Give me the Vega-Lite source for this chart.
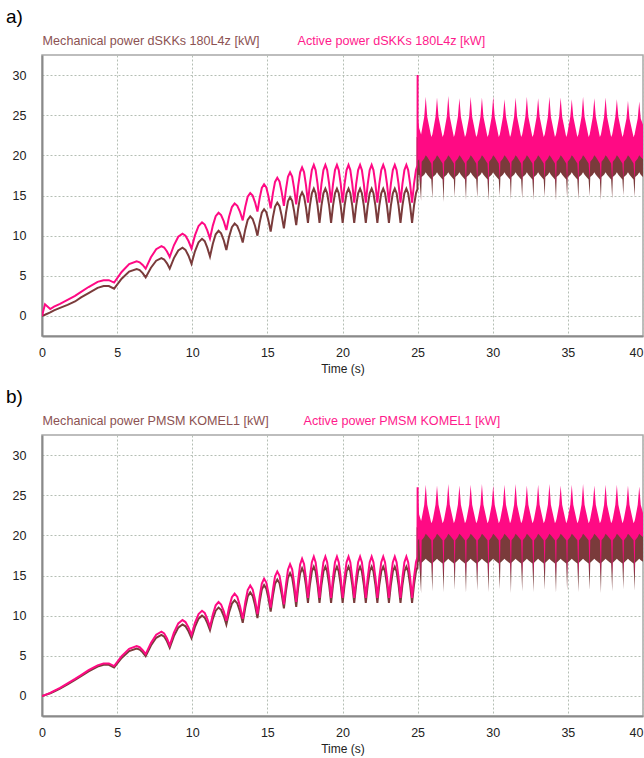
{
"$schema":"https://vega.github.io/schema/vega-lite/v6.json",
"background":"white",
"padding":{"left":5,"top":7,"right":0,"bottom":0},
"config":{"font":"Liberation Sans","view":{"stroke":"#a8a8a8","strokeWidth":1.5}},
"resolve":{"scale":{"color":"independent"},"legend":{"color":"independent"}},
"spacing":99,
"bounds":"flush",
"datasets":{
"pre":[
{"t":0,"am":0,"ap":0,"bm":0,"bp":0},
{"t":0.2,"am":0.15,"ap":1.45,"bm":0.1,"bp":0.12},
{"t":0.55,"am":0.45,"ap":0.85,"bm":0.33,"bp":0.38},
{"t":0.8,"am":0.7,"ap":1.15,"bm":0.55,"bp":0.62},
{"t":1.2,"am":1.0,"ap":1.5,"bm":0.9,"bp":1.0},
{"t":1.7,"am":1.37,"ap":2.0,"bm":1.45,"bp":1.55},
{"t":2.2,"am":1.8,"ap":2.5,"bm":2.0,"bp":2.12},
{"t":2.6,"am":2.3,"ap":3.0,"bm":2.45,"bp":2.6},
{"t":3.1,"am":2.85,"ap":3.6,"bm":3.05,"bp":3.2},
{"t":3.7,"am":3.5,"ap":4.25,"bm":3.65,"bp":3.8},
{"t":4.1,"am":3.72,"ap":4.45,"bm":3.88,"bp":4.05},
{"t":4.45,"am":3.72,"ap":4.45,"bm":3.88,"bp":4.05},
{"t":4.8,"am":3.4,"ap":4.15,"bm":3.55,"bp":3.72},
{"t":5.3,"am":4.63,"ap":5.48,"bm":4.73,"bp":4.96},
{"t":5.8,"am":5.52,"ap":6.45,"bm":5.59,"bp":5.87},
{"t":6.3,"am":5.85,"ap":6.8,"bm":5.9,"bp":6.2},
{"t":6.5,"am":5.71,"ap":6.68,"bm":5.77,"bp":6.07},
{"t":6.7,"am":5.33,"ap":6.35,"bm":5.43,"bp":5.7},
{"t":6.9,"am":4.8,"ap":5.9,"bm":4.95,"bp":5.2},
{"t":7.25,"am":6.0,"ap":7.3,"bm":6.28,"bp":6.6},
{"t":7.6,"am":6.88,"ap":8.32,"bm":7.24,"bp":7.62},
{"t":7.95,"am":7.2,"ap":8.7,"bm":7.6,"bp":8.0},
{"t":8.13,"am":7.03,"ap":8.52,"bm":7.39,"bp":7.77},
{"t":8.32,"am":6.55,"ap":8.03,"bm":6.8,"bp":7.15},
{"t":8.5,"am":5.9,"ap":7.35,"bm":6.0,"bp":6.3},
{"t":8.78,"am":7.2,"ap":8.8,"bm":7.45,"bp":7.88},
{"t":9.07,"am":8.15,"ap":9.86,"bm":8.51,"bp":9.03},
{"t":9.35,"am":8.5,"ap":10.25,"bm":8.9,"bp":9.45},
{"t":9.55,"am":8.23,"ap":10.0,"bm":8.67,"bp":9.2},
{"t":9.75,"am":7.5,"ap":9.33,"bm":8.05,"bp":8.53},
{"t":9.95,"am":6.5,"ap":8.4,"bm":7.2,"bp":7.6},
{"t":10.18,"am":8.05,"ap":10.03,"bm":8.6,"bp":9.1},
{"t":10.42,"am":9.18,"ap":11.21,"bm":9.62,"bp":10.2},
{"t":10.65,"am":9.6,"ap":11.65,"bm":10.0,"bp":10.6},
{"t":10.83,"am":9.31,"ap":11.38,"bm":9.76,"bp":10.33},
{"t":11.0,"am":8.5,"ap":10.65,"bm":9.1,"bp":9.6},
{"t":11.18,"am":7.4,"ap":9.65,"bm":8.2,"bp":8.6},
{"t":11.37,"am":9.0,"ap":11.25,"bm":9.6,"bp":10.15},
{"t":11.56,"am":10.17,"ap":12.42,"bm":10.62,"bp":11.28},
{"t":11.75,"am":10.6,"ap":12.85,"bm":11.0,"bp":11.7},
{"t":11.92,"am":10.28,"ap":12.56,"bm":10.72,"bp":11.39},
{"t":12.1,"am":9.4,"ap":11.78,"bm":9.95,"bp":10.53},
{"t":12.27,"am":8.2,"ap":10.7,"bm":8.9,"bp":9.35},
{"t":12.45,"am":9.85,"ap":12.35,"bm":10.4,"bp":11.05},
{"t":12.64,"am":11.06,"ap":13.56,"bm":11.5,"bp":12.29},
{"t":12.82,"am":11.5,"ap":14.0,"bm":11.9,"bp":12.75},
{"t":13.0,"am":11.19,"ap":13.72,"bm":11.52,"bp":12.33},
{"t":13.18,"am":10.33,"ap":12.95,"bm":10.5,"bp":11.18},
{"t":13.36,"am":9.15,"ap":11.9,"bm":9.1,"bp":9.6},
{"t":13.53,"am":10.78,"ap":13.6,"bm":11.0,"bp":11.68},
{"t":13.69,"am":11.96,"ap":14.84,"bm":12.39,"bp":13.19},
{"t":13.86,"am":12.4,"ap":15.3,"bm":12.9,"bp":13.75},
{"t":14.02,"am":12.08,"ap":14.99,"bm":12.47,"bp":13.27},
{"t":14.18,"am":11.2,"ap":14.15,"bm":11.3,"bp":11.98},
{"t":14.34,"am":10.0,"ap":13.0,"bm":9.7,"bp":10.2},
{"t":14.49,"am":11.65,"ap":14.7,"bm":11.75,"bp":12.4},
{"t":14.63,"am":12.86,"ap":15.94,"bm":13.25,"bp":14.01},
{"t":14.78,"am":13.3,"ap":16.4,"bm":13.8,"bp":14.6},
{"t":14.93,"am":12.92,"ap":16.0,"bm":13.36,"bp":14.12},
{"t":15.07,"am":11.9,"ap":14.9,"bm":12.15,"bp":12.8},
{"t":15.22,"am":10.5,"ap":13.4,"bm":10.5,"bp":11.0},
{"t":15.37,"am":12.3,"ap":15.3,"bm":12.5,"bp":13.25},
{"t":15.51,"am":13.62,"ap":16.69,"bm":13.96,"bp":14.9},
{"t":15.66,"am":14.1,"ap":17.2,"bm":14.5,"bp":15.5},
{"t":15.81,"am":13.67,"ap":16.73,"bm":14.02,"bp":14.95},
{"t":15.95,"am":12.5,"ap":15.45,"bm":12.7,"bp":13.45},
{"t":16.1,"am":10.9,"ap":13.7,"bm":10.9,"bp":11.4},
{"t":16.24,"am":12.85,"ap":15.8,"bm":13.1,"bp":13.9},
{"t":16.37,"am":14.28,"ap":17.34,"bm":14.71,"bp":15.73},
{"t":16.51,"am":14.8,"ap":17.9,"bm":15.3,"bp":16.4},
{"t":16.65,"am":14.33,"ap":17.36,"bm":14.74,"bp":15.77},
{"t":16.78,"am":13.05,"ap":15.9,"bm":13.2,"bp":14.05},
{"t":16.92,"am":11.3,"ap":13.9,"bm":11.1,"bp":11.7},
{"t":17.05,"am":13.35,"ap":16.2,"bm":13.5,"bp":14.4},
{"t":17.18,"am":14.85,"ap":17.88,"bm":15.26,"bp":16.38},
{"t":17.31,"am":15.4,"ap":18.5,"bm":15.9,"bp":17.1},
{"t":17.44,"am":14.89,"ap":17.91,"bm":15.32,"bp":16.44},
{"t":17.57,"am":13.5,"ap":16.3,"bm":13.75,"bp":14.65},
{"t":17.7,"am":11.6,"ap":14.1,"bm":11.6,"bp":12.2},
{"t":17.83,"am":13.73,"ap":16.45,"bm":13.85,"bp":14.78},
{"t":17.96,"am":15.28,"ap":18.17,"bm":15.5,"bp":16.66},
{"t":18.09,"am":15.85,"ap":18.8,"bm":16.1,"bp":17.35},
{"t":18.21,"am":15.28,"ap":18.17,"bm":15.5,"bp":16.66},
{"t":18.34,"am":13.73,"ap":16.45,"bm":13.85,"bp":14.78},
{"t":18.47,"am":11.6,"ap":14.1,"bm":11.6,"bp":12.2},
{"t":18.6,"am":13.73,"ap":16.45,"bm":13.85,"bp":14.78},
{"t":18.73,"am":15.28,"ap":18.17,"bm":15.5,"bp":16.66},
{"t":18.86,"am":15.85,"ap":18.8,"bm":16.1,"bp":17.35},
{"t":18.98,"am":15.28,"ap":18.17,"bm":15.5,"bp":16.66},
{"t":19.11,"am":13.73,"ap":16.45,"bm":13.85,"bp":14.78},
{"t":19.24,"am":11.6,"ap":14.1,"bm":11.6,"bp":12.2},
{"t":19.37,"am":13.73,"ap":16.45,"bm":13.85,"bp":14.78},
{"t":19.5,"am":15.28,"ap":18.17,"bm":15.5,"bp":16.66},
{"t":19.63,"am":15.85,"ap":18.8,"bm":16.1,"bp":17.35},
{"t":19.75,"am":15.28,"ap":18.17,"bm":15.5,"bp":16.66},
{"t":19.88,"am":13.73,"ap":16.45,"bm":13.85,"bp":14.78},
{"t":20.01,"am":11.6,"ap":14.1,"bm":11.6,"bp":12.2},
{"t":20.14,"am":13.73,"ap":16.45,"bm":13.85,"bp":14.78},
{"t":20.27,"am":15.28,"ap":18.17,"bm":15.5,"bp":16.66},
{"t":20.4,"am":15.85,"ap":18.8,"bm":16.1,"bp":17.35},
{"t":20.52,"am":15.28,"ap":18.17,"bm":15.5,"bp":16.66},
{"t":20.65,"am":13.73,"ap":16.45,"bm":13.85,"bp":14.78},
{"t":20.78,"am":11.6,"ap":14.1,"bm":11.6,"bp":12.2},
{"t":20.91,"am":13.73,"ap":16.45,"bm":13.85,"bp":14.78},
{"t":21.04,"am":15.28,"ap":18.17,"bm":15.5,"bp":16.66},
{"t":21.17,"am":15.85,"ap":18.8,"bm":16.1,"bp":17.35},
{"t":21.29,"am":15.28,"ap":18.17,"bm":15.5,"bp":16.66},
{"t":21.42,"am":13.73,"ap":16.45,"bm":13.85,"bp":14.78},
{"t":21.55,"am":11.6,"ap":14.1,"bm":11.6,"bp":12.2},
{"t":21.68,"am":13.73,"ap":16.45,"bm":13.85,"bp":14.78},
{"t":21.81,"am":15.28,"ap":18.17,"bm":15.5,"bp":16.66},
{"t":21.94,"am":15.85,"ap":18.8,"bm":16.1,"bp":17.35},
{"t":22.06,"am":15.28,"ap":18.17,"bm":15.5,"bp":16.66},
{"t":22.19,"am":13.73,"ap":16.45,"bm":13.85,"bp":14.78},
{"t":22.32,"am":11.6,"ap":14.1,"bm":11.6,"bp":12.2},
{"t":22.45,"am":13.73,"ap":16.45,"bm":13.85,"bp":14.78},
{"t":22.58,"am":15.28,"ap":18.17,"bm":15.5,"bp":16.66},
{"t":22.71,"am":15.85,"ap":18.8,"bm":16.1,"bp":17.35},
{"t":22.83,"am":15.28,"ap":18.17,"bm":15.5,"bp":16.66},
{"t":22.96,"am":13.73,"ap":16.45,"bm":13.85,"bp":14.78},
{"t":23.09,"am":11.6,"ap":14.1,"bm":11.6,"bp":12.2},
{"t":23.22,"am":13.73,"ap":16.45,"bm":13.85,"bp":14.78},
{"t":23.35,"am":15.28,"ap":18.17,"bm":15.5,"bp":16.66},
{"t":23.48,"am":15.85,"ap":18.8,"bm":16.1,"bp":17.35},
{"t":23.6,"am":15.28,"ap":18.17,"bm":15.5,"bp":16.66},
{"t":23.73,"am":13.73,"ap":16.45,"bm":13.85,"bp":14.78},
{"t":23.86,"am":11.6,"ap":14.1,"bm":11.6,"bp":12.2},
{"t":23.99,"am":13.73,"ap":16.45,"bm":13.85,"bp":14.78},
{"t":24.12,"am":15.28,"ap":18.17,"bm":15.5,"bp":16.66},
{"t":24.25,"am":15.85,"ap":18.8,"bm":16.1,"bp":17.35},
{"t":24.37,"am":15.28,"ap":18.17,"bm":15.5,"bp":16.66},
{"t":24.5,"am":13.73,"ap":16.45,"bm":13.85,"bp":14.78},
{"t":24.63,"am":11.6,"ap":14.1,"bm":11.6,"bp":12.2},
{"t":24.76,"am":13.73,"ap":16.45,"bm":13.85,"bp":14.78},
{"t":24.89,"am":15.28,"ap":18.17,"bm":15.5,"bp":16.66},
{"t":24.99,"am":15.8,"ap":18.75,"bm":16.05,"bp":17.3},
{"t":25.0,"am":22.3,"ap":30.0,"bm":21.0,"bp":26.0}
],
"post":[
{"t":25.0,"a1":25.0,"a2":19.3,"a3":22.3,"a4":17.5,"b1":26.0,"b2":19.3,"b3":21.0,"b4":16.5},
{"t":25.1,"a1":23.4,"a2":19.5,"a3":21.6,"a4":17.6,"b1":22.6,"b2":19.6,"b3":20.5,"b4":16.8},
{"t":25.23,"a1":22.6,"a2":16.4,"a3":21.0,"a4":14.3,"b1":21.8,"b2":14.9,"b3":20.0,"b4":12.8},
{"t":25.27,"a1":23.0,"a2":19.2,"a3":21.3,"a4":17.3,"b1":22.1,"b2":19.4,"b3":20.3,"b4":16.6},
{"t":25.44,"a1":24.8,"a2":19.6,"a3":21.8,"a4":17.6,"b1":23.8,"b2":19.8,"b3":20.8,"b4":16.9},
{"t":25.54,"a1":27.3,"a2":20.0,"a3":22.4,"a4":17.9,"b1":26.3,"b2":20.2,"b3":21.3,"b4":17.1},
{"t":25.64,"a1":24.8,"a2":19.8,"a3":22.0,"a4":17.6,"b1":23.8,"b2":20.0,"b3":21.0,"b4":16.9},
{"t":25.91,"a1":22.3,"a2":19.0,"a3":21.0,"a4":17.0,"b1":21.5,"b2":19.4,"b3":20.2,"b4":16.5},
{"t":25.98,"a1":22.6,"a2":16.7,"a3":21.0,"a4":14.6,"b1":21.8,"b2":15.1,"b3":20.0,"b4":13.0},
{"t":26.02,"a1":23.0,"a2":19.2,"a3":21.3,"a4":17.3,"b1":22.1,"b2":19.4,"b3":20.3,"b4":16.6},
{"t":26.19,"a1":24.8,"a2":19.6,"a3":21.8,"a4":17.6,"b1":23.8,"b2":19.8,"b3":20.8,"b4":16.9},
{"t":26.29,"a1":27.2,"a2":20.0,"a3":22.4,"a4":17.9,"b1":26.2,"b2":20.2,"b3":21.3,"b4":17.1},
{"t":26.39,"a1":24.8,"a2":19.8,"a3":22.0,"a4":17.6,"b1":23.8,"b2":20.0,"b3":21.0,"b4":16.9},
{"t":26.66,"a1":22.3,"a2":19.0,"a3":21.0,"a4":17.0,"b1":21.5,"b2":19.4,"b3":20.2,"b4":16.5},
{"t":26.73,"a1":22.6,"a2":16.5,"a3":21.0,"a4":14.2,"b1":21.8,"b2":15.0,"b3":20.0,"b4":12.9},
{"t":26.77,"a1":23.0,"a2":19.2,"a3":21.3,"a4":17.3,"b1":22.1,"b2":19.4,"b3":20.3,"b4":16.6},
{"t":26.94,"a1":24.8,"a2":19.6,"a3":21.8,"a4":17.6,"b1":23.8,"b2":19.8,"b3":20.8,"b4":16.9},
{"t":27.04,"a1":27.4,"a2":20.0,"a3":22.4,"a4":17.9,"b1":26.4,"b2":20.2,"b3":21.3,"b4":17.1},
{"t":27.14,"a1":24.8,"a2":19.8,"a3":22.0,"a4":17.6,"b1":23.8,"b2":20.0,"b3":21.0,"b4":16.9},
{"t":27.41,"a1":22.3,"a2":19.0,"a3":21.0,"a4":17.0,"b1":21.5,"b2":19.4,"b3":20.2,"b4":16.5},
{"t":27.47,"a1":22.6,"a2":16.8,"a3":21.0,"a4":14.8,"b1":21.8,"b2":15.2,"b3":20.0,"b4":13.2},
{"t":27.51,"a1":23.0,"a2":19.2,"a3":21.3,"a4":17.3,"b1":22.1,"b2":19.4,"b3":20.3,"b4":16.6},
{"t":27.68,"a1":24.8,"a2":19.6,"a3":21.8,"a4":17.6,"b1":23.8,"b2":19.8,"b3":20.8,"b4":16.9},
{"t":27.78,"a1":27.1,"a2":20.0,"a3":22.4,"a4":17.9,"b1":26.2,"b2":20.2,"b3":21.3,"b4":17.1},
{"t":27.88,"a1":24.8,"a2":19.8,"a3":22.0,"a4":17.6,"b1":23.8,"b2":20.0,"b3":21.0,"b4":16.9},
{"t":28.15,"a1":22.3,"a2":19.0,"a3":21.0,"a4":17.0,"b1":21.5,"b2":19.4,"b3":20.2,"b4":16.5},
{"t":28.22,"a1":22.6,"a2":16.5,"a3":21.0,"a4":14.4,"b1":21.8,"b2":14.9,"b3":20.0,"b4":12.8},
{"t":28.26,"a1":23.0,"a2":19.2,"a3":21.3,"a4":17.3,"b1":22.1,"b2":19.4,"b3":20.3,"b4":16.6},
{"t":28.43,"a1":24.8,"a2":19.6,"a3":21.8,"a4":17.6,"b1":23.8,"b2":19.8,"b3":20.8,"b4":16.9},
{"t":28.53,"a1":27.3,"a2":20.0,"a3":22.4,"a4":17.9,"b1":26.3,"b2":20.2,"b3":21.3,"b4":17.1},
{"t":28.63,"a1":24.8,"a2":19.8,"a3":22.0,"a4":17.6,"b1":23.8,"b2":20.0,"b3":21.0,"b4":16.9},
{"t":28.9,"a1":22.3,"a2":19.0,"a3":21.0,"a4":17.0,"b1":21.5,"b2":19.4,"b3":20.2,"b4":16.5},
{"t":28.97,"a1":22.6,"a2":16.9,"a3":21.0,"a4":14.7,"b1":21.8,"b2":15.0,"b3":20.0,"b4":13.1},
{"t":29.01,"a1":23.0,"a2":19.2,"a3":21.3,"a4":17.3,"b1":22.1,"b2":19.4,"b3":20.3,"b4":16.6},
{"t":29.18,"a1":24.8,"a2":19.6,"a3":21.8,"a4":17.6,"b1":23.8,"b2":19.8,"b3":20.8,"b4":16.9},
{"t":29.28,"a1":27.2,"a2":20.0,"a3":22.4,"a4":17.9,"b1":26.4,"b2":20.2,"b3":21.3,"b4":17.1},
{"t":29.38,"a1":24.8,"a2":19.8,"a3":22.0,"a4":17.6,"b1":23.8,"b2":20.0,"b3":21.0,"b4":16.9},
{"t":29.65,"a1":22.3,"a2":19.0,"a3":21.0,"a4":17.0,"b1":21.5,"b2":19.4,"b3":20.2,"b4":16.5},
{"t":29.72,"a1":22.6,"a2":16.4,"a3":21.0,"a4":14.3,"b1":21.8,"b2":14.8,"b3":20.0,"b4":12.9},
{"t":29.76,"a1":23.0,"a2":19.2,"a3":21.3,"a4":17.3,"b1":22.1,"b2":19.4,"b3":20.3,"b4":16.6},
{"t":29.93,"a1":24.8,"a2":19.6,"a3":21.8,"a4":17.6,"b1":23.8,"b2":19.8,"b3":20.8,"b4":16.9},
{"t":30.03,"a1":27.3,"a2":20.0,"a3":22.4,"a4":17.9,"b1":26.2,"b2":20.2,"b3":21.3,"b4":17.1},
{"t":30.13,"a1":24.8,"a2":19.8,"a3":22.0,"a4":17.6,"b1":23.8,"b2":20.0,"b3":21.0,"b4":16.9},
{"t":30.4,"a1":22.3,"a2":19.0,"a3":21.0,"a4":17.0,"b1":21.5,"b2":19.4,"b3":20.2,"b4":16.5},
{"t":30.47,"a1":22.6,"a2":16.9,"a3":21.0,"a4":14.9,"b1":21.8,"b2":15.3,"b3":20.0,"b4":13.3},
{"t":30.51,"a1":23.0,"a2":19.2,"a3":21.3,"a4":17.3,"b1":22.1,"b2":19.4,"b3":20.3,"b4":16.6},
{"t":30.68,"a1":24.8,"a2":19.6,"a3":21.8,"a4":17.6,"b1":23.8,"b2":19.8,"b3":20.8,"b4":16.9},
{"t":30.78,"a1":27.0,"a2":20.0,"a3":22.4,"a4":17.9,"b1":26.3,"b2":20.2,"b3":21.3,"b4":17.1},
{"t":30.88,"a1":24.8,"a2":19.8,"a3":22.0,"a4":17.6,"b1":23.8,"b2":20.0,"b3":21.0,"b4":16.9},
{"t":31.15,"a1":22.3,"a2":19.0,"a3":21.0,"a4":17.0,"b1":21.5,"b2":19.4,"b3":20.2,"b4":16.5},
{"t":31.21,"a1":22.6,"a2":16.6,"a3":21.0,"a4":14.5,"b1":21.8,"b2":14.9,"b3":20.0,"b4":12.8},
{"t":31.25,"a1":23.0,"a2":19.2,"a3":21.3,"a4":17.3,"b1":22.1,"b2":19.4,"b3":20.3,"b4":16.6},
{"t":31.42,"a1":24.8,"a2":19.6,"a3":21.8,"a4":17.6,"b1":23.8,"b2":19.8,"b3":20.8,"b4":16.9},
{"t":31.52,"a1":27.2,"a2":20.0,"a3":22.4,"a4":17.9,"b1":26.4,"b2":20.2,"b3":21.3,"b4":17.1},
{"t":31.62,"a1":24.8,"a2":19.8,"a3":22.0,"a4":17.6,"b1":23.8,"b2":20.0,"b3":21.0,"b4":16.9},
{"t":31.89,"a1":22.3,"a2":19.0,"a3":21.0,"a4":17.0,"b1":21.5,"b2":19.4,"b3":20.2,"b4":16.5},
{"t":31.96,"a1":22.6,"a2":16.7,"a3":21.0,"a4":14.6,"b1":21.8,"b2":15.1,"b3":20.0,"b4":13.0},
{"t":32.0,"a1":23.0,"a2":19.2,"a3":21.3,"a4":17.3,"b1":22.1,"b2":19.4,"b3":20.3,"b4":16.6},
{"t":32.17,"a1":24.8,"a2":19.6,"a3":21.8,"a4":17.6,"b1":23.8,"b2":19.8,"b3":20.8,"b4":16.9},
{"t":32.27,"a1":27.3,"a2":20.0,"a3":22.4,"a4":17.9,"b1":26.2,"b2":20.2,"b3":21.3,"b4":17.1},
{"t":32.37,"a1":24.8,"a2":19.8,"a3":22.0,"a4":17.6,"b1":23.8,"b2":20.0,"b3":21.0,"b4":16.9},
{"t":32.64,"a1":22.3,"a2":19.0,"a3":21.0,"a4":17.0,"b1":21.5,"b2":19.4,"b3":20.2,"b4":16.5},
{"t":32.71,"a1":22.6,"a2":16.5,"a3":21.0,"a4":14.4,"b1":21.8,"b2":15.0,"b3":20.0,"b4":12.9},
{"t":32.75,"a1":23.0,"a2":19.2,"a3":21.3,"a4":17.3,"b1":22.1,"b2":19.4,"b3":20.3,"b4":16.6},
{"t":32.92,"a1":24.8,"a2":19.6,"a3":21.8,"a4":17.6,"b1":23.8,"b2":19.8,"b3":20.8,"b4":16.9},
{"t":33.02,"a1":27.1,"a2":20.0,"a3":22.4,"a4":17.9,"b1":26.3,"b2":20.2,"b3":21.3,"b4":17.1},
{"t":33.12,"a1":24.8,"a2":19.8,"a3":22.0,"a4":17.6,"b1":23.8,"b2":20.0,"b3":21.0,"b4":16.9},
{"t":33.39,"a1":22.3,"a2":19.0,"a3":21.0,"a4":17.0,"b1":21.5,"b2":19.4,"b3":20.2,"b4":16.5},
{"t":33.46,"a1":22.6,"a2":16.8,"a3":21.0,"a4":14.8,"b1":21.8,"b2":15.2,"b3":20.0,"b4":13.2},
{"t":33.5,"a1":23.0,"a2":19.2,"a3":21.3,"a4":17.3,"b1":22.1,"b2":19.4,"b3":20.3,"b4":16.6},
{"t":33.67,"a1":24.8,"a2":19.6,"a3":21.8,"a4":17.6,"b1":23.8,"b2":19.8,"b3":20.8,"b4":16.9},
{"t":33.77,"a1":27.3,"a2":20.0,"a3":22.4,"a4":17.9,"b1":26.4,"b2":20.2,"b3":21.3,"b4":17.1},
{"t":33.87,"a1":24.8,"a2":19.8,"a3":22.0,"a4":17.6,"b1":23.8,"b2":20.0,"b3":21.0,"b4":16.9},
{"t":34.14,"a1":22.3,"a2":19.0,"a3":21.0,"a4":17.0,"b1":21.5,"b2":19.4,"b3":20.2,"b4":16.5},
{"t":34.21,"a1":22.6,"a2":16.4,"a3":21.0,"a4":14.3,"b1":21.8,"b2":14.9,"b3":20.0,"b4":12.8},
{"t":34.25,"a1":23.0,"a2":19.2,"a3":21.3,"a4":17.3,"b1":22.1,"b2":19.4,"b3":20.3,"b4":16.6},
{"t":34.42,"a1":24.8,"a2":19.6,"a3":21.8,"a4":17.6,"b1":23.8,"b2":19.8,"b3":20.8,"b4":16.9},
{"t":34.52,"a1":27.2,"a2":20.0,"a3":22.4,"a4":17.9,"b1":26.2,"b2":20.2,"b3":21.3,"b4":17.1},
{"t":34.62,"a1":24.8,"a2":19.8,"a3":22.0,"a4":17.6,"b1":23.8,"b2":20.0,"b3":21.0,"b4":16.9},
{"t":34.89,"a1":22.3,"a2":19.0,"a3":21.0,"a4":17.0,"b1":21.5,"b2":19.4,"b3":20.2,"b4":16.5},
{"t":34.95,"a1":22.6,"a2":16.7,"a3":21.0,"a4":14.7,"b1":21.8,"b2":15.0,"b3":20.0,"b4":13.1},
{"t":34.99,"a1":23.0,"a2":19.2,"a3":21.3,"a4":17.3,"b1":22.1,"b2":19.4,"b3":20.3,"b4":16.6},
{"t":35.16,"a1":24.8,"a2":19.6,"a3":21.8,"a4":17.6,"b1":23.8,"b2":19.8,"b3":20.8,"b4":16.9},
{"t":35.26,"a1":27.0,"a2":20.0,"a3":22.4,"a4":17.9,"b1":26.3,"b2":20.2,"b3":21.3,"b4":17.1},
{"t":35.36,"a1":24.8,"a2":19.8,"a3":22.0,"a4":17.6,"b1":23.8,"b2":20.0,"b3":21.0,"b4":16.9},
{"t":35.63,"a1":22.3,"a2":19.0,"a3":21.0,"a4":17.0,"b1":21.5,"b2":19.4,"b3":20.2,"b4":16.5},
{"t":35.7,"a1":22.6,"a2":16.6,"a3":21.0,"a4":14.5,"b1":21.8,"b2":14.8,"b3":20.0,"b4":12.9},
{"t":35.74,"a1":23.0,"a2":19.2,"a3":21.3,"a4":17.3,"b1":22.1,"b2":19.4,"b3":20.3,"b4":16.6},
{"t":35.91,"a1":24.8,"a2":19.6,"a3":21.8,"a4":17.6,"b1":23.8,"b2":19.8,"b3":20.8,"b4":16.9},
{"t":36.01,"a1":27.3,"a2":20.0,"a3":22.4,"a4":17.9,"b1":26.4,"b2":20.2,"b3":21.3,"b4":17.1},
{"t":36.11,"a1":24.8,"a2":19.8,"a3":22.0,"a4":17.6,"b1":23.8,"b2":20.0,"b3":21.0,"b4":16.9},
{"t":36.38,"a1":22.3,"a2":19.0,"a3":21.0,"a4":17.0,"b1":21.5,"b2":19.4,"b3":20.2,"b4":16.5},
{"t":36.45,"a1":22.6,"a2":16.9,"a3":21.0,"a4":14.9,"b1":21.8,"b2":15.2,"b3":20.0,"b4":13.2},
{"t":36.49,"a1":23.0,"a2":19.2,"a3":21.3,"a4":17.3,"b1":22.1,"b2":19.4,"b3":20.3,"b4":16.6},
{"t":36.66,"a1":24.8,"a2":19.6,"a3":21.8,"a4":17.6,"b1":23.8,"b2":19.8,"b3":20.8,"b4":16.9},
{"t":36.76,"a1":27.1,"a2":20.0,"a3":22.4,"a4":17.9,"b1":26.2,"b2":20.2,"b3":21.3,"b4":17.1},
{"t":36.86,"a1":24.8,"a2":19.8,"a3":22.0,"a4":17.6,"b1":23.8,"b2":20.0,"b3":21.0,"b4":16.9},
{"t":37.13,"a1":22.3,"a2":19.0,"a3":21.0,"a4":17.0,"b1":21.5,"b2":19.4,"b3":20.2,"b4":16.5},
{"t":37.2,"a1":22.6,"a2":16.5,"a3":21.0,"a4":14.4,"b1":21.8,"b2":14.9,"b3":20.0,"b4":12.8},
{"t":37.24,"a1":23.0,"a2":19.2,"a3":21.3,"a4":17.3,"b1":22.1,"b2":19.4,"b3":20.3,"b4":16.6},
{"t":37.41,"a1":24.8,"a2":19.6,"a3":21.8,"a4":17.6,"b1":23.8,"b2":19.8,"b3":20.8,"b4":16.9},
{"t":37.51,"a1":27.2,"a2":20.0,"a3":22.4,"a4":17.9,"b1":26.3,"b2":20.2,"b3":21.3,"b4":17.1},
{"t":37.61,"a1":24.8,"a2":19.8,"a3":22.0,"a4":17.6,"b1":23.8,"b2":20.0,"b3":21.0,"b4":16.9},
{"t":37.88,"a1":22.3,"a2":19.0,"a3":21.0,"a4":17.0,"b1":21.5,"b2":19.4,"b3":20.2,"b4":16.5},
{"t":37.95,"a1":22.6,"a2":16.7,"a3":21.0,"a4":14.6,"b1":21.8,"b2":15.1,"b3":20.0,"b4":13.0},
{"t":37.99,"a1":23.0,"a2":19.2,"a3":21.3,"a4":17.3,"b1":22.1,"b2":19.4,"b3":20.3,"b4":16.6},
{"t":38.16,"a1":24.8,"a2":19.6,"a3":21.8,"a4":17.6,"b1":23.8,"b2":19.8,"b3":20.8,"b4":16.9},
{"t":38.26,"a1":27.0,"a2":20.0,"a3":22.4,"a4":17.9,"b1":26.3,"b2":20.2,"b3":21.3,"b4":17.1},
{"t":38.36,"a1":24.8,"a2":19.8,"a3":22.0,"a4":17.6,"b1":23.8,"b2":20.0,"b3":21.0,"b4":16.9},
{"t":38.63,"a1":22.3,"a2":19.0,"a3":21.0,"a4":17.0,"b1":21.5,"b2":19.4,"b3":20.2,"b4":16.5},
{"t":38.69,"a1":22.6,"a2":17.0,"a3":21.0,"a4":15.0,"b1":21.8,"b2":15.3,"b3":20.0,"b4":13.3},
{"t":38.73,"a1":23.0,"a2":19.2,"a3":21.3,"a4":17.3,"b1":22.1,"b2":19.4,"b3":20.3,"b4":16.6},
{"t":38.9,"a1":24.6,"a2":19.6,"a3":21.8,"a4":17.6,"b1":23.8,"b2":19.8,"b3":20.8,"b4":16.9},
{"t":39.0,"a1":26.8,"a2":20.0,"a3":22.4,"a4":17.9,"b1":26.2,"b2":20.2,"b3":21.3,"b4":17.1},
{"t":39.1,"a1":24.6,"a2":19.8,"a3":22.0,"a4":17.6,"b1":23.8,"b2":20.0,"b3":21.0,"b4":16.9},
{"t":39.37,"a1":22.3,"a2":19.0,"a3":21.0,"a4":17.0,"b1":21.5,"b2":19.4,"b3":20.2,"b4":16.5},
{"t":39.44,"a1":22.6,"a2":16.8,"a3":21.0,"a4":14.8,"b1":21.8,"b2":15.0,"b3":20.0,"b4":13.1},
{"t":39.48,"a1":23.0,"a2":19.2,"a3":21.3,"a4":17.3,"b1":22.1,"b2":19.4,"b3":20.3,"b4":16.6},
{"t":39.65,"a1":24.6,"a2":19.6,"a3":21.8,"a4":17.6,"b1":23.8,"b2":19.8,"b3":20.8,"b4":16.9},
{"t":39.75,"a1":26.7,"a2":20.0,"a3":22.4,"a4":17.9,"b1":26.1,"b2":20.2,"b3":21.3,"b4":17.1},
{"t":39.85,"a1":24.6,"a2":19.8,"a3":22.0,"a4":17.6,"b1":23.8,"b2":20.0,"b3":21.0,"b4":16.9},
{"t":40.0,"a1":23.8,"a2":19.5,"a3":21.6,"a4":17.3,"b1":22.8,"b2":19.8,"b3":20.6,"b4":16.7}
]
},
"vconcat":[
{
"width":601,"height":281,
"title":{"text":"a)","anchor":"start","frame":"group","dx":-36,"fontSize":19,"fontWeight":"normal","color":"#000","font":"Liberation Sans","offset":8},
"layer":[
{"data":{"name":"pre"},"transform":[{"fold":["am","ap"],"as":["s","v"]}],
"mark":{"type":"line","strokeWidth":2,"clip":true},
"encoding":{
"x":{"field":"t","type":"quantitative","title":"Time (s)","scale":{"domain":[0,40],"nice":false},
"axis":{"values":[0,2.5,5,7.5,10,12.5,15,17.5,20,22.5,25,27.5,30,32.5,35,37.5,40],"labelExpr":"datum.value % 5 === 0 ? datum.label : ''","labelAlign":{"condition":{"test":"datum.value === 40","value":"right"},"value":"center"},"grid":true,"gridColor":"#b4beb4","gridDash":[2,2],"ticks":false,"domainColor":"#8a8a8a","domainWidth":2,"labelFontSize":12.5,"labelColor":"#222","labelPadding":10,"labelOverlap":false,"labelFont":"Liberation Sans","titleFont":"Liberation Sans","titleFontSize":12,"titleFontWeight":"normal","titleColor":"#222","titlePadding":5}},
"y":{"field":"v","type":"quantitative","title":null,"scale":{"domain":[-2.5,32.5],"nice":false,"zero":false},
"axis":{"values":[0,5,10,15,20,25,30],"grid":true,"gridColor":"#b4beb4","gridDash":[2,2],"ticks":false,"domainColor":"#8a8a8a","domainWidth":2,"labelFontSize":12.5,"labelColor":"#222","labelPadding":16,"labelFont":"Liberation Sans"}},
"color":{"field":"s","type":"nominal","scale":{"domain":["am","ap"],"range":["#7a3b3b","#ff0a84"]},
"legend":{"orient":"none","legendX":-12,"legendY":-20,"direction":"horizontal","title":null,"symbolSize":0,"symbolStrokeWidth":0,"symbolOpacity":0,"labelOffset":0,"columnPadding":25,"labelFont":"Liberation Sans","labelFontSize":12.6,"labelLimit":0,"labelExpr":"datum.value == 'am' ? 'Mechanical power dSKKs 180L4z [kW]' : 'Active power dSKKs 180L4z [kW]'","labelColor":{"expr":"datum.value == 'am' ? '#8c5252' : '#ff1a8c'"}}}
}},
{"data":{"name":"post"},"mark":{"type":"area","color":"#7a3b3b","clip":true},
"encoding":{"x":{"field":"t","type":"quantitative","title":"Time (s)"},"y":{"field":"a3","type":"quantitative","title":null},"y2":{"field":"a4"}}},
{"data":{"name":"post"},"mark":{"type":"area","color":"#ff0a84","clip":true},
"encoding":{"x":{"field":"t","type":"quantitative","title":"Time (s)"},"y":{"field":"a1","type":"quantitative","title":null},"y2":{"field":"a2"}}}
]
},
{
"width":601,"height":281,
"title":{"text":"b)","anchor":"start","frame":"group","dx":-36,"fontSize":19,"fontWeight":"normal","color":"#000","font":"Liberation Sans","offset":8},
"layer":[
{"data":{"name":"pre"},"transform":[{"fold":["bm","bp"],"as":["s","v"]}],
"mark":{"type":"line","strokeWidth":2,"clip":true},
"encoding":{
"x":{"field":"t","type":"quantitative","title":"Time (s)","scale":{"domain":[0,40],"nice":false},
"axis":{"values":[0,2.5,5,7.5,10,12.5,15,17.5,20,22.5,25,27.5,30,32.5,35,37.5,40],"labelExpr":"datum.value % 5 === 0 ? datum.label : ''","labelAlign":{"condition":{"test":"datum.value === 40","value":"right"},"value":"center"},"grid":true,"gridColor":"#b4beb4","gridDash":[2,2],"ticks":false,"domainColor":"#8a8a8a","domainWidth":2,"labelFontSize":12.5,"labelColor":"#222","labelPadding":10,"labelOverlap":false,"labelFont":"Liberation Sans","titleFont":"Liberation Sans","titleFontSize":12,"titleFontWeight":"normal","titleColor":"#222","titlePadding":5}},
"y":{"field":"v","type":"quantitative","title":null,"scale":{"domain":[-2.5,32.5],"nice":false,"zero":false},
"axis":{"values":[0,5,10,15,20,25,30],"grid":true,"gridColor":"#b4beb4","gridDash":[2,2],"ticks":false,"domainColor":"#8a8a8a","domainWidth":2,"labelFontSize":12.5,"labelColor":"#222","labelPadding":16,"labelFont":"Liberation Sans"}},
"color":{"field":"s","type":"nominal","scale":{"domain":["bm","bp"],"range":["#7a3b3b","#ff0a84"]},
"legend":{"orient":"none","legendX":-12,"legendY":-20,"direction":"horizontal","title":null,"symbolSize":0,"symbolStrokeWidth":0,"symbolOpacity":0,"labelOffset":0,"columnPadding":22,"labelFont":"Liberation Sans","labelFontSize":12.6,"labelLimit":0,"labelExpr":"datum.value == 'bm' ? 'Mechanical power PMSM KOMEL1 [kW]' : 'Active power PMSM KOMEL1 [kW]'","labelColor":{"expr":"datum.value == 'bm' ? '#8c5252' : '#ff1a8c'"}}}
}},
{"data":{"name":"post"},"mark":{"type":"area","color":"#7a3b3b","clip":true},
"encoding":{"x":{"field":"t","type":"quantitative","title":"Time (s)"},"y":{"field":"b3","type":"quantitative","title":null},"y2":{"field":"b4"}}},
{"data":{"name":"post"},"mark":{"type":"area","color":"#ff0a84","clip":true},
"encoding":{"x":{"field":"t","type":"quantitative","title":"Time (s)"},"y":{"field":"b1","type":"quantitative","title":null},"y2":{"field":"b2"}}}
]
}
]
}
